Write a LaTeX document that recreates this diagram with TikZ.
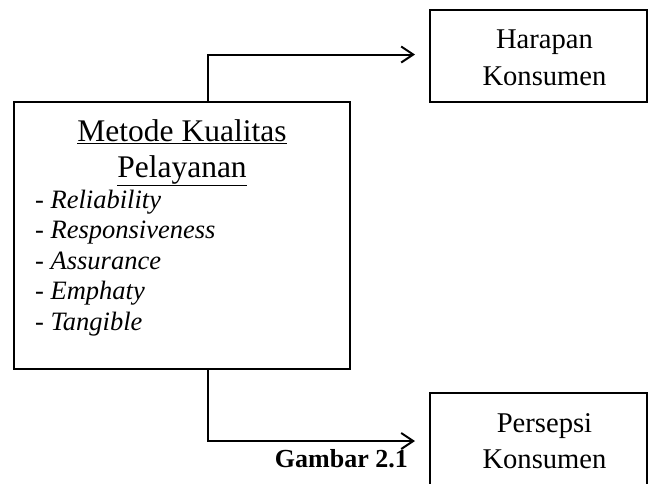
\documentclass[tikz,border=0pt]{standalone}
\usepackage{fontspec}
\setmainfont{Liberation Serif}
\usetikzlibrary{arrows.meta}
\tikzset{
  box/.style={draw, line width=2pt, inner sep=0pt},
  conn/.style={line width=2pt, -{Straight Barb[length=12pt,width=16pt,line width=2pt]}},
  txt/.style={inner sep=0pt, anchor=base},
  rtxt/.style={txt, font=\fontsize{28.6}{32}\selectfont},
  itm/.style={inner sep=0pt, anchor=base west, font=\fontsize{26.5}{30}\selectfont\itshape},
}
\begin{document}
\begin{tikzpicture}[x=1pt,y=-1pt]
\clip (0,0) rectangle (648,483);
\fill[white] (0,0) rectangle (648,483);
% boxes
\node[box, minimum width=336pt, minimum height=267pt] (main) at (182,235.5) {};
\node[box, minimum width=217pt, minimum height=92pt] (harap) at (538.5,56) {};
\node[box, minimum width=217pt, minimum height=127pt] (pers) at (538.5,456.5) {};
% title
\node[txt, font=\fontsize{31.5}{35}\selectfont] (t1) at (182,141.5) {\underline{Metode Kualitas}};
\node[txt, font=\fontsize{31.5}{35}\selectfont] (t2) at (182,177) {\underline{Pelayanan}};
% list
\node[itm] (l1) at (35,208) {\upshape-\itshape{} Reliability};
\node[itm] (l2) at (35,238.5) {\upshape-\itshape{} Responsiveness};
\node[itm] (l3) at (35,269) {\upshape-\itshape{} Assurance};
\node[itm] (l4) at (35,299.5) {\upshape-\itshape{} Emphaty};
\node[itm] (l5) at (35,330) {\upshape-\itshape{} Tangible};
% right texts
\node[rtxt] (h1) at (544.5,48) {Harapan};
\node[rtxt] (h2) at (544.5,85) {Konsumen};
\node[rtxt] (p1) at (544.5,432) {Persepsi};
\node[rtxt] (p2) at (544.5,468.5) {Konsumen};
% caption
\node[inner sep=0pt, anchor=base east, font=\fontsize{26}{30}\selectfont\bfseries] (cap) at (408,467) {Gambar 2.1};
% connectors
\coordinate (a1) at (415,54.5);
\coordinate (a2) at (415,441);
\draw[conn] (main.north -| 208,0) |- (a1);
\draw[conn] (main.south -| 208,0) |- (a2);
\end{tikzpicture}
\end{document}
